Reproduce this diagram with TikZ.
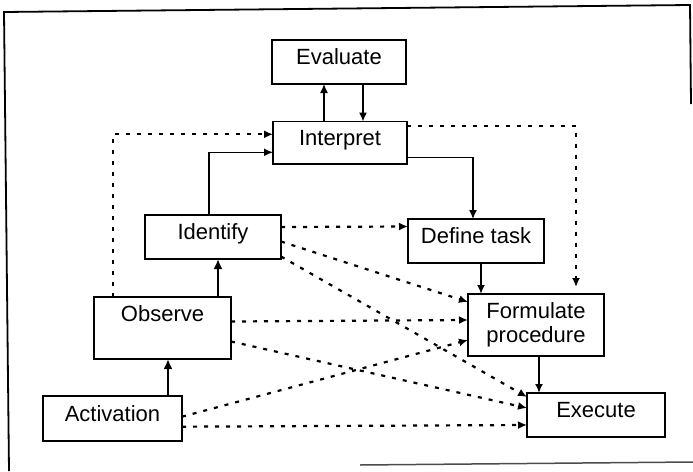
\documentclass[tikz,border=0pt]{standalone}
\usepackage{fontspec}
\setmainfont{Liberation Sans}
\usetikzlibrary{arrows.meta}
\begin{document}
\begin{tikzpicture}[x=1pt,y=-1pt,
  every node/.style={font=\fontsize{22}{24}\selectfont},
  stage/.style={draw, line width=1.8pt, inner sep=0pt, outer sep=0pt,
    anchor=north west, text height=15.75pt, text depth=10pt},
  link/.style={line width=1.4pt, -{Latex[length=9pt,width=8pt]}},
  boldlink/.style={line width=2.6pt, -{Latex[length=10pt,width=9pt]}},
  cue/.style={line width=2.2pt, dash pattern=on 4pt off 7pt,
    -{Latex[length=9pt,width=8pt]}},
]
\useasboundingbox (0,0) rectangle (693,471);

% frame of the page
\draw[line width=1.8pt] (9,471) -- (4,12) -- (690,5) -- (691,104);
\draw[line width=1.5pt, black!70] (360,465) -- (693,462);

% stages
\node[stage, minimum width=134pt, minimum height=44pt] (ev) at (272,40) {Evaluate};
\node[stage, minimum width=134pt, minimum height=42.5pt] (ip) at (273,121.5) {Interpret};
\node[stage, minimum width=136pt, minimum height=44pt] (id) at (145,215) {Identify};
\node[stage, minimum width=136pt, minimum height=44pt] (dt) at (408,219) {Define task};
\node[stage, minimum width=137pt, minimum height=62pt, text depth=28pt] (ob) at (94,297) {Observe};
\node[stage, minimum width=136pt, minimum height=62pt, align=center,
  text height=, text depth=] (fp) at (468,294) {Formulate\\procedure};
\node[stage, minimum width=139pt, minimum height=45pt] (ac) at (43,396) {Activation};
\node[stage, minimum width=138pt, minimum height=44pt] (ex) at (527,393) {Execute};

% bends and positions of connectors
\coordinate (evUp) at (324,0);
\coordinate (evDown) at (363,0);
\coordinate (idTurn) at (209,152.3);
\coordinate (obTurn) at (113,134.3);
\coordinate (dtTurn) at (473,157.3);
\coordinate (fpTurn) at (576,125.7);
\coordinate (dtfp) at (481,0);
\coordinate (fpex) at (539,0);
\coordinate (obid) at (218,0);
\coordinate (acob) at (168,0);

% main flow
\draw[link] (ip.north -| evUp) -- (ev.south -| evUp);
\draw[link] (ev.south -| evDown) -- (ip.north -| evDown);
\draw[link] (id.north -| idTurn) -- (idTurn) -- (ip.west |- idTurn);
\draw[link] (ip.east |- dtTurn) -- (dtTurn) -- (dt.north -| dtTurn);
\draw[link, line width=2pt] (dt.south -| dtfp) -- (fp.north -| dtfp);
\draw[link, line width=2pt] (fp.south -| fpex) -- (ex.north -| fpex);
\draw[boldlink] (ob.north -| obid) -- (id.south -| obid);
\draw[boldlink] (ac.north -| acob) -- (ob.south -| acob);

% shortcuts
\draw[cue] (ob.north -| obTurn) -- (obTurn) -- (ip.west |- obTurn);
\draw[cue, shorten >=7pt] (ip.east |- fpTurn) -- (fpTurn) -- (fp.north -| fpTurn);

\coordinate (s1) at (0,227);   \coordinate (e1) at (0,226.5);
\coordinate (s2) at (0,241.5); \coordinate (e2) at (0,302);
\coordinate (s3) at (0,256.5); \coordinate (e3) at (0,397);
\coordinate (s4) at (0,321.5); \coordinate (e4) at (0,320);
\coordinate (s5) at (0,341.5); \coordinate (e5) at (0,408);
\coordinate (s6) at (0,416.7); \coordinate (e6) at (0,340);
\coordinate (s7) at (0,426.7); \coordinate (e7) at (0,425);

\draw[cue] (id.east |- s1) -- (dt.west |- e1);
\draw[cue] (id.east |- s2) -- (fp.west |- e2);
\draw[cue] (id.east |- s3) -- (ex.west |- e3);
\draw[cue] (ob.east |- s4) -- (fp.west |- e4);
\draw[cue] (ob.east |- s5) -- (ex.west |- e5);
\draw[cue] (ac.east |- s6) -- (fp.west |- e6);
\draw[cue] (ac.east |- s7) -- (ex.west |- e7);
\end{tikzpicture}
\end{document}
